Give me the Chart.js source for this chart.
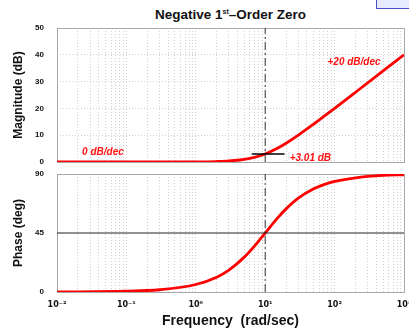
<!DOCTYPE html>
<html lang="en">
<head>
  <meta charset="UTF-8">
  <script src="https://cdn.jsdelivr.net/npm/chart.js@4.4.0/dist/chart.umd.min.js"></script>
  <title>Negative 1st-Order Zero</title>
  <style>
    body { margin: 0; width: 409px; height: 330px; background: #fff; position: relative; overflow: hidden;
           font-family: "Liberation Sans", Arial, sans-serif; }
    #title { position: absolute; left: 57px; width: 347px; top: 7px; text-align: center;
             font-weight: bold; font-size: 13.5px; color: #111; }
    #title sup { font-size: 7px; vertical-align: 5px; }
    #tag { position: absolute; left: 376px; top: -2px; width: 40px; height: 9px;
           background: #e8eaff; border: 1px solid #4a4fc0; }
    .box { position: absolute; left: 0; width: 409px; }
    #magBox { top: 0; height: 168px; }
    #phaseBox { top: 168px; height: 162px; }
  </style>
</head>
<body>
  <div id="tag"></div>
  <div id="title">Negative 1<sup>st</sup>–Order Zero</div>
  <div class="box" id="magBox"><canvas id="mag"></canvas></div>
  <div class="box" id="phaseBox"><canvas id="phase"></canvas></div>

  <script>
    // values
    var freqs    = [0.01, 0.1, 0.3, 1, 2, 3, 5, 7, 10, 15, 20, 30, 50, 70, 100, 200, 500, 1000];
    var magDb    = [0, 0, 0.004, 0.04, 0.17, 0.37, 0.97, 1.73, 3.01, 5.12, 6.99, 10.0, 14.15, 16.99, 20.04, 26.03, 33.98, 40.0];
    var phaseDeg = [0.06, 0.57, 1.72, 5.71, 11.3, 16.7, 26.6, 35.0, 45, 56.3, 63.4, 71.6, 78.7, 81.9, 84.3, 87.1, 88.9, 89.4];

    var decades = [0.01, 0.1, 1, 10, 100, 1000];
    var decadeLabels = ['10⁻²', '10⁻¹', '10⁰', '10¹', '10²', '10³'];
    var magTicks = [0, 10, 20, 30, 40, 50];
    var phaseTicks = [0, 45, 90];

    var cornerFreq = 10;
    var cornerMag = 3.01;
    var cornerSpan = [6.4, 19];

    var magNotes = [
      { text: '0 dB/dec', x: 0.023, y: 3.7, align: 'left' },
      { text: '+20 dB/dec', x: 460, y: 37.3, align: 'right' },
      { text: '+3.01 dB', x: 22.5, y: 1.4, align: 'left' }
    ];

    var gridVals = [];
    for (var d = 0; d < decades.length; d++) {
      for (var m = 1; m <= 9; m++) {
        var v = decades[d] * m;
        if (v <= 1000) gridVals.push(v);
      }
    }

    function pts(xs, ys) {
      return xs.map(function (x, i) { return { x: x, y: ys[i] }; });
    }

    var boxPlugin = {
      id: 'box',
      beforeDatasetsDraw: function (chart) {
        var a = chart.chartArea, c = chart.ctx;
        c.save();
        c.strokeStyle = '#a8a8a8';
        c.lineWidth = 1;
        c.strokeRect(a.left + 0.5, a.top + 0.5, a.right - a.left, a.bottom - a.top);
        c.restore();
      }
    };

    var notePlugin = {
      id: 'notes',
      afterDatasetsDraw: function (chart, args, opts) {
        if (!opts.items) return;
        var c = chart.ctx;
        c.save();
        c.fillStyle = '#ff1010';
        c.font = 'italic bold 10px "Liberation Sans", Arial, sans-serif';
        c.textBaseline = 'middle';
        opts.items.forEach(function (n) {
          c.textAlign = n.align;
          c.fillText(n.text, chart.scales.x.getPixelForValue(n.x), chart.scales.y.getPixelForValue(n.y));
        });
        c.restore();
      }
    };

    function noPad(s) {
      s.paddingTop = 0; s.paddingBottom = 0; s.paddingLeft = 0; s.paddingRight = 0;
    }

    function xScale(showLabels) {
      return {
        type: 'logarithmic',
        min: 0.01,
        max: 1000,
        afterBuildTicks: function (s) { s.ticks = gridVals.map(function (v) { return { value: v }; }); },
        afterFit: function (s) { s.height = showLabels ? 38 : 0; noPad(s); },
        grid: { color: '#d0d0d0', lineWidth: 1, drawTicks: false },
        border: { display: false, dash: [1, 2] },
        ticks: {
          display: showLabels,
          autoSkip: false,
          maxRotation: 0,
          padding: 8,
          color: '#111',
          font: { size: 8, weight: 'bold', family: '"DejaVu Sans", sans-serif' },
          callback: function (val) {
            var i = decades.findIndex(function (d) { return Math.abs(val / d - 1) < 1e-6; });
            return i >= 0 ? decadeLabels[i] : '';
          }
        },
        title: {
          display: showLabels,
          text: 'Frequency  (rad/sec)',
          color: '#111',
          font: { size: 14, weight: 'bold', family: '"Liberation Sans", Arial, sans-serif' },
          padding: { top: 0, bottom: 0 }
        }
      };
    }

    function yScale(min, max, ticks, title, showGrid) {
      return {
        min: min,
        max: max,
        afterBuildTicks: function (s) { s.ticks = ticks.map(function (v) { return { value: v }; }); },
        afterFit: function (s) { s.width = 57; noPad(s); },
        grid: { display: showGrid, color: '#d0d0d0', drawTicks: false },
        border: { display: false, dash: [1, 2] },
        ticks: {
          padding: 13,
          color: '#111',
          font: { size: 8, weight: 'bold', family: '"Liberation Sans", Arial, sans-serif' }
        },
        title: {
          display: true,
          text: title,
          color: '#111',
          font: { size: 12, weight: 'bold', family: '"Liberation Sans", Arial, sans-serif' },
          padding: { top: 11, bottom: 0 }
        }
      };
    }

    var curveStyle = {
      borderColor: '#ff0000',
      borderWidth: 2.8,
      pointRadius: 0,
      cubicInterpolationMode: 'monotone',
      fill: false
    };

    var dashDot = {
      borderColor: '#333',
      borderWidth: 1,
      borderDash: [8, 3, 2, 3],
      pointRadius: 0,
      fill: false
    };

    new Chart(document.getElementById('mag'), {
      type: 'line',
      data: {
        datasets: [
          Object.assign({ data: pts([cornerFreq, cornerFreq], [0, 50]) }, dashDot),
          { data: pts(cornerSpan, [cornerMag, cornerMag]), borderColor: '#000', borderWidth: 1.5, pointRadius: 0 },
          Object.assign({ data: pts(freqs, magDb) }, curveStyle)
        ]
      },
      options: {
        responsive: true,
        maintainAspectRatio: false,
        animation: false,
        layout: { padding: { top: 28, right: 5, bottom: 6, left: 0 } },
        plugins: { legend: { display: false }, tooltip: { enabled: false }, notes: { items: magNotes } },
        scales: { x: xScale(false), y: yScale(0, 50, magTicks, 'Magnitude (dB)', true) }
      },
      plugins: [boxPlugin, notePlugin]
    });

    new Chart(document.getElementById('phase'), {
      type: 'line',
      data: {
        datasets: [
          Object.assign({ data: pts([cornerFreq, cornerFreq], [0, 90]) }, dashDot),
          { data: pts([0.01, 1000], [45, 45]), borderColor: '#222', borderWidth: 1.2, pointRadius: 0 },
          Object.assign({ data: pts(freqs, phaseDeg) }, curveStyle)
        ]
      },
      options: {
        responsive: true,
        maintainAspectRatio: false,
        animation: false,
        layout: { padding: { top: 6, right: 5, bottom: 0, left: 0 } },
        plugins: { legend: { display: false }, tooltip: { enabled: false } },
        scales: { x: xScale(true), y: yScale(0, 90, phaseTicks, 'Phase (deg)', false) }
      },
      plugins: [boxPlugin, notePlugin]
    });
  </script>
</body>
</html>
